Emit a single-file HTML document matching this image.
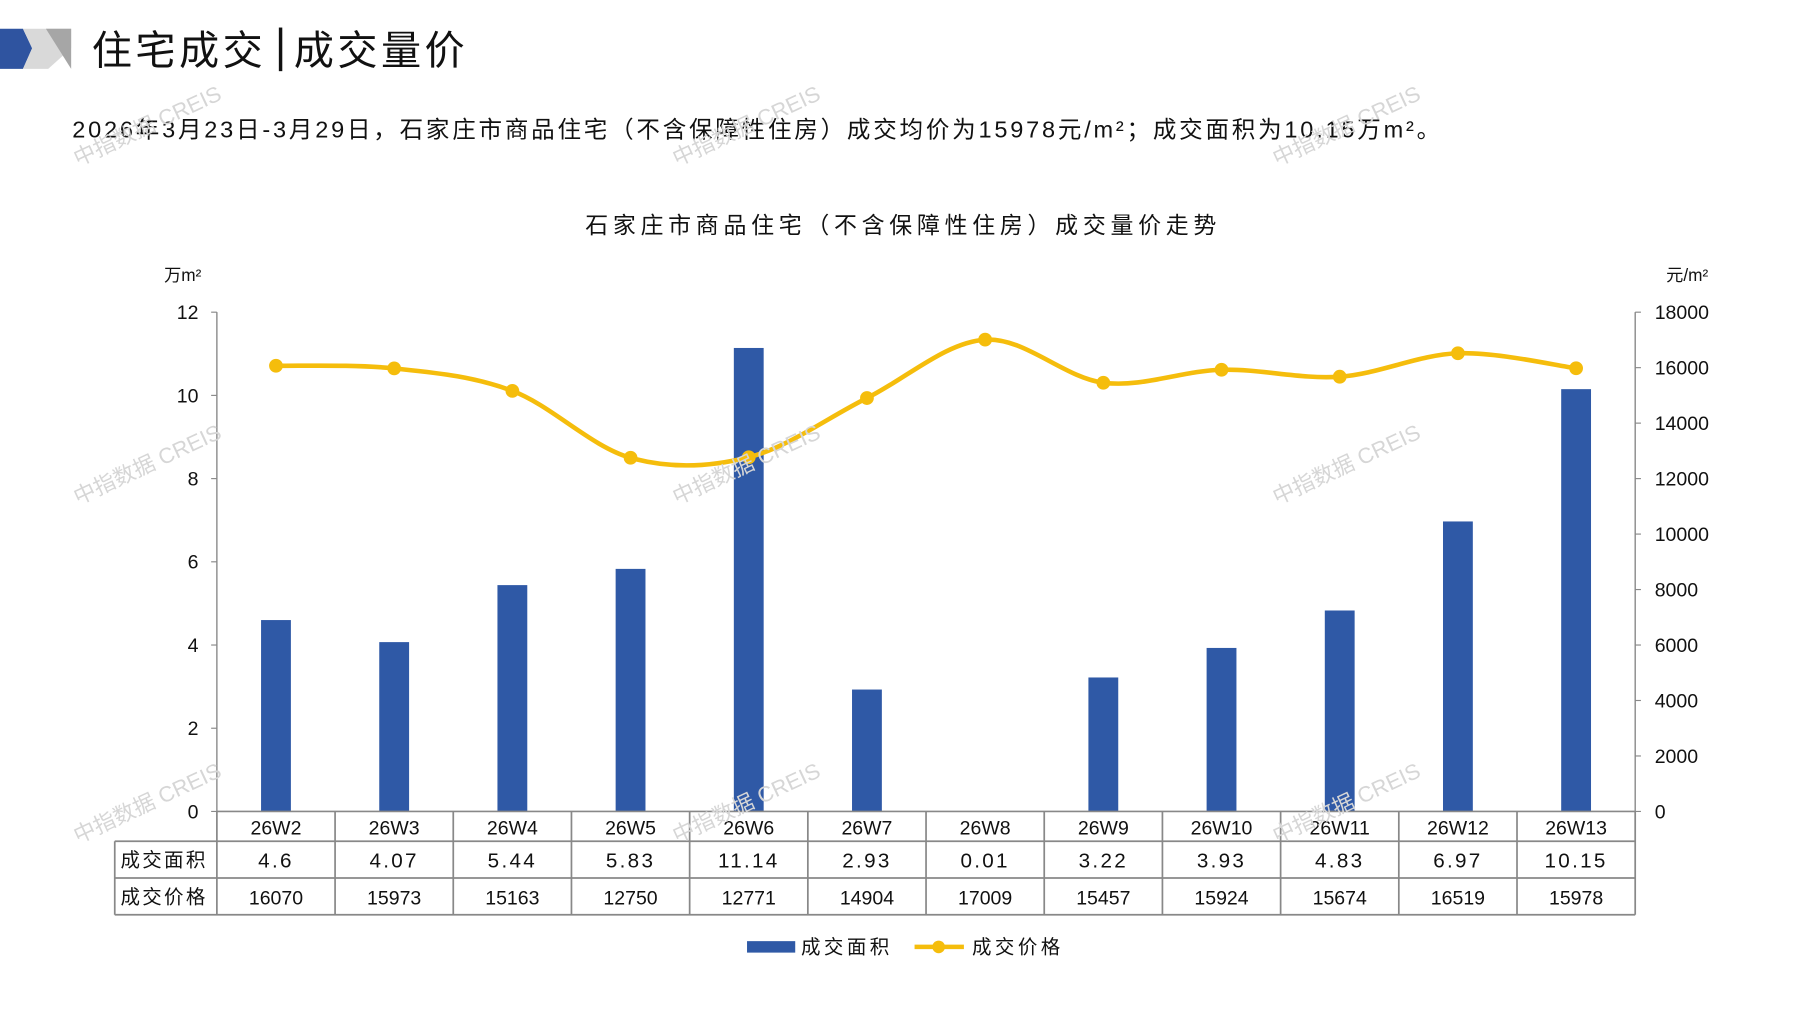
<!DOCTYPE html>
<html><head><meta charset="utf-8"><style>
html,body{margin:0;padding:0;background:#fff;}
svg{display:block;}
text{font-family:"Liberation Sans","Noto Sans CJK SC",sans-serif;fill:#111;}
.wm{fill:#d6d6d6;font-size:19px;}
</style></head><body>
<svg id="s" width="1797" height="1010" viewBox="0 0 1566 880" preserveAspectRatio="none" xmlns="http://www.w3.org/2000/svg">
<polygon points="0,25 20,25 28,42 20,60 0,60" fill="#2f54a0"/>
<polygon points="20,25 62,25 62,42 42,60 20,60 28,42" fill="#d9d9d9"/>
<polygon points="40,25 62,25 62,60" fill="#a6a6a6"/>
<text x="80" y="56" font-size="35" letter-spacing="3">住宅成交</text>
<rect x="243" y="24" width="3" height="38" fill="#111"/>
<text x="256" y="56" font-size="35" letter-spacing="3">成交量价</text>
<text x="63" y="120" font-size="20.5" textLength="1192" lengthAdjust="spacing">2026年3月23日-3月29日，石家庄市商品住宅（不含保障性住房）成交均价为15978元/m²；成交面积为10.15万m²。</text>
<text x="510" y="203" font-size="20" textLength="550" lengthAdjust="spacing">石家庄市商品住宅（不含保障性住房）成交量价走势</text>
<text x="143" y="245" font-size="15">万m²</text>
<text x="1452" y="245" font-size="15">元/m²</text>
<g id="g"></g>
</svg>
<script>
var g=document.getElementById('g'),h='';
var L=189,R=1425,T=272,B=707,cw=(R-L)/12;
var area=[4.6,4.07,5.44,5.83,11.14,2.93,0.01,3.22,3.93,4.83,6.97,10.15];
var areaS=['4.6','4.07','5.44','5.83','11.14','2.93','0.01','3.22','3.93','4.83','6.97','10.15'];
var price=[16070,15973,15163,12750,12771,14904,17009,15457,15924,15674,16519,15978];
h+='<line x1="'+L+'" y1="'+T+'" x2="'+L+'" y2="'+B+'" stroke="#888" stroke-width="1.2"/>';
h+='<line x1="'+R+'" y1="'+T+'" x2="'+R+'" y2="'+B+'" stroke="#888" stroke-width="1.2"/>';
for(var i=0;i<=6;i++){var y=B-i*(B-T)/6;
 h+='<line x1="'+(L-5)+'" y1="'+y+'" x2="'+L+'" y2="'+y+'" stroke="#888"/>';
 h+='<text x="173" y="'+(y+6)+'" font-size="17" text-anchor="end">'+(i*2)+'</text>';}
for(var i=0;i<=9;i++){var y=B-i*(B-T)/9;
 h+='<line x1="'+R+'" y1="'+y+'" x2="'+(R+5)+'" y2="'+y+'" stroke="#888"/>';
 h+='<text x="1442" y="'+(y+6)+'" font-size="17">'+(i*2000)+'</text>';}
var px=[],py=[];
for(var i=0;i<12;i++){var cx=L+cw*(i+.5);var bh=area[i]/12*(B-T);
 h+='<rect x="'+(cx-13)+'" y="'+(B-bh)+'" width="26" height="'+bh+'" fill="#2f59a6"/>';
 px.push(cx);py.push(B-price[i]/18000*(B-T));}
var d='M'+px[0]+','+py[0];
for(var i=0;i<11;i++){var p0=i>0?i-1:i,p3=i<10?i+2:i+1;
 var c1x=px[i]+(px[i+1]-px[p0])/6,c1y=py[i]+(py[i+1]-py[p0])/6;
 var c2x=px[i+1]-(px[p3]-px[i])/6,c2y=py[i+1]-(py[p3]-py[i])/6;
 d+=' C'+c1x+','+c1y+' '+c2x+','+c2y+' '+px[i+1]+','+py[i+1];}
h+='<path d="'+d+'" fill="none" stroke="#f5bd0c" stroke-width="4"/>';
for(var i=0;i<12;i++)h+='<circle cx="'+px[i]+'" cy="'+py[i]+'" r="6" fill="#f5bd0c"/>';
var st='stroke="#888" stroke-width="1.5"';
h+='<line x1="'+L+'" y1="'+B+'" x2="'+R+'" y2="'+B+'" '+st+'/>';
h+='<line x1="100" y1="733" x2="'+R+'" y2="733" '+st+'/>';
h+='<line x1="100" y1="765" x2="'+R+'" y2="765" '+st+'/>';
h+='<line x1="100" y1="797" x2="'+R+'" y2="797" '+st+'/>';
h+='<line x1="100" y1="733" x2="100" y2="797" '+st+'/>';
for(var i=0;i<=12;i++){var x=L+cw*i;h+='<line x1="'+x+'" y1="'+B+'" x2="'+x+'" y2="797" '+st+'/>';}
for(var i=0;i<12;i++){var cx=px[i];
 h+='<text x="'+cx+'" y="727" font-size="17" text-anchor="middle">26W'+(i+2)+'</text>';
 h+='<text x="'+cx+'" y="756" font-size="18" text-anchor="middle" letter-spacing="2">'+areaS[i]+'</text>';
 h+='<text x="'+cx+'" y="788" font-size="17" text-anchor="middle">'+price[i]+'</text>';}
h+='<text x="105" y="755" font-size="17" letter-spacing="2">成交面积</text>';
h+='<text x="105" y="787" font-size="17" letter-spacing="2">成交价格</text>';
h+='<rect x="651" y="820" width="42" height="10" fill="#2f59a6"/>';
h+='<text x="698" y="831" font-size="17" letter-spacing="3">成交面积</text>';
h+='<line x1="797" y1="825" x2="840" y2="825" stroke="#f5bd0c" stroke-width="4"/><circle cx="818" cy="825" r="5.5" fill="#f5bd0c"/>';
h+='<text x="847" y="831" font-size="17" letter-spacing="3">成交价格</text>';
var wx=[68,590,1113],wy=[145,440,735];
for(var a=0;a<3;a++)for(var b=0;b<3;b++)
 h+='<text class="wm" x="'+wx[a]+'" y="'+wy[b]+'" transform="rotate(-25 '+wx[a]+' '+wy[b]+')">中指数据 CREIS</text>';
g.innerHTML=h;
</script>
</body></html>
